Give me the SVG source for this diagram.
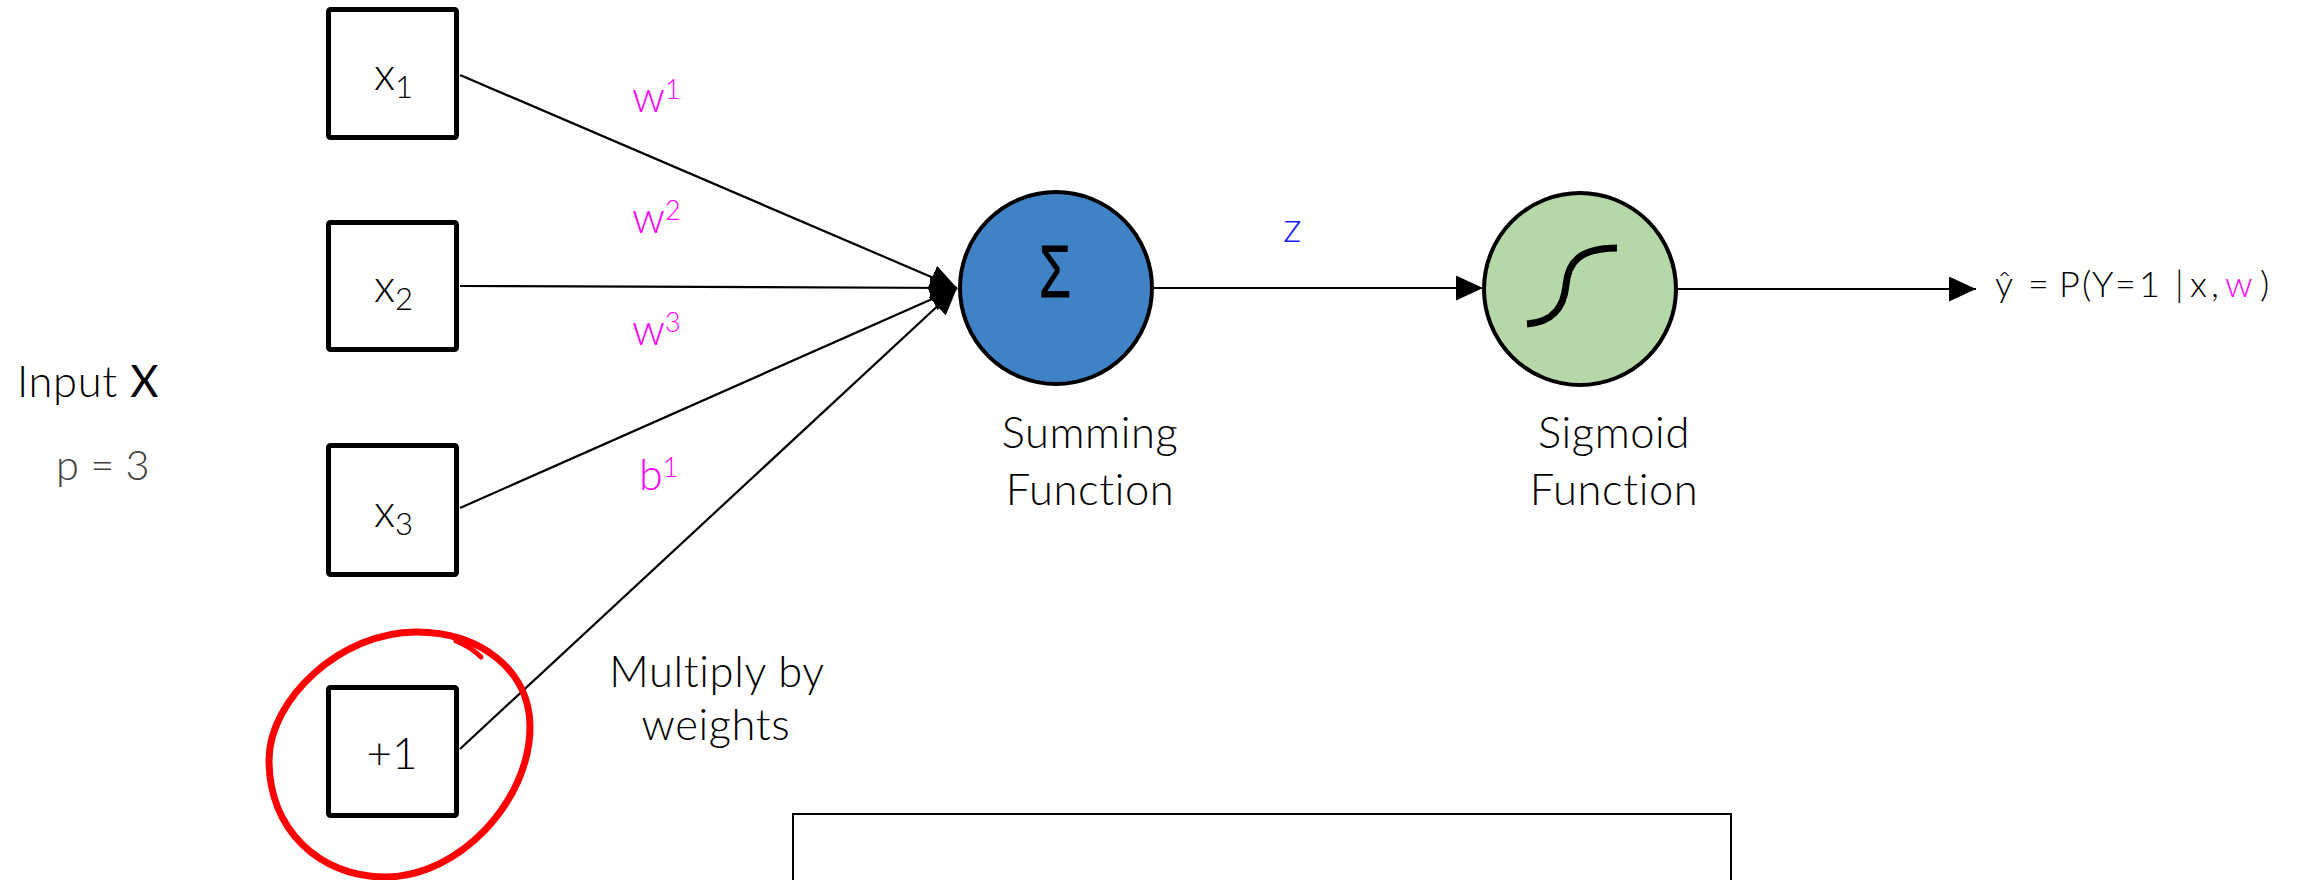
<svg xmlns="http://www.w3.org/2000/svg" width="2300" height="880" viewBox="0 0 2300 880">
<style>
.t{font-family:Lato,"Liberation Sans",sans-serif;font-weight:300;fill:#000}
.lbl{font-size:43.5px;letter-spacing:0.6px}
.box{fill:#fff;stroke:#000;stroke-width:5}
.conn{fill:none;stroke:#000;stroke-width:2.2;marker-end:url(#arr)}
.mag{fill:#ff00ff}
.circ{stroke:#000;stroke-width:4}
</style>
<defs>
<marker id="arr" markerUnits="userSpaceOnUse" markerWidth="30" markerHeight="28" refX="27" refY="12.5" orient="auto">
<path d="M0,0 L27,12.5 L0,25 Z" fill="#000"/>
</marker>
</defs>
<rect width="2300" height="880" fill="#fff"/>

<g id="connectors">
<line class="conn" x1="460" y1="75" x2="957" y2="288"/>
<line class="conn" x1="460" y1="286" x2="957" y2="288"/>
<line class="conn" x1="460" y1="508" x2="957" y2="288"/>
<line class="conn" x1="460" y1="749" x2="957" y2="288"/>
<line class="conn" x1="1152" y1="288" x2="1483" y2="288"/>
<line class="conn" x1="1677" y1="289" x2="1976" y2="289"/>
</g>

<g id="input-label">
<text class="t lbl" x="17" y="397">Input <tspan font-weight="400">X</tspan></text>
<text class="t" x="56" y="480" font-size="41.5" style="fill:#404040">p = 3</text>
</g>

<g id="node-x1">
<rect class="box" x="328.5" y="9.5" width="128" height="128" rx="2"/>
<text class="t" x="374" y="90" font-size="45">x<tspan font-size="31" dy="8">1</tspan></text>
</g>
<g id="node-x2">
<rect class="box" x="328.5" y="222.5" width="128" height="127" rx="2"/>
<text class="t" x="374" y="302" font-size="45">x<tspan font-size="31" dy="8">2</tspan></text>
</g>
<g id="node-x3">
<rect class="box" x="328.5" y="445.5" width="128" height="129" rx="2"/>
<text class="t" x="374" y="527" font-size="45">x<tspan font-size="31" dy="8">3</tspan></text>
</g>
<g id="node-bias">
<rect class="box" x="328.5" y="687.5" width="128" height="128" rx="2"/>
<text class="t" x="392" y="769" font-size="44" text-anchor="middle">+1</text>
<path d="M416,632 C480,632 530,670 530,727 C530,800 460,877 385,877 C320,877 269,830 269,760 C269,700 340,632 416,632 Z" fill="none" stroke="#ff0000" stroke-width="7"/>
<path d="M456,641 C466,645 474,650 481,657" fill="none" stroke="#ff0000" stroke-width="5" stroke-linecap="round"/>
</g>

<g id="weight-labels">
<text class="t mag" x="632" y="112" font-size="43">w<tspan font-size="27" dy="-13">1</tspan></text>
<text class="t mag" x="632" y="233" font-size="43">w<tspan font-size="27" dy="-13">2</tspan></text>
<text class="t mag" x="632" y="345" font-size="43">w<tspan font-size="27" dy="-13">3</tspan></text>
<text class="t mag" x="639" y="490" font-size="43">b<tspan font-size="27" dy="-13">1</tspan></text>
<text class="t lbl" x="717" y="687" text-anchor="middle">Multiply by</text>
<text class="t lbl" x="716" y="740" text-anchor="middle">weights</text>
</g>

<g id="node-sum">
<circle class="circ" cx="1056" cy="288" r="96" fill="#3f83c6"/>
<text x="1055" y="297" font-family="'Liberation Sans',sans-serif" font-size="75" textLength="32" lengthAdjust="spacingAndGlyphs" text-anchor="middle" fill="#000" stroke="#000" stroke-width="0.8">Σ</text>
<text class="t lbl" x="1090" y="448" text-anchor="middle">Summing</text>
<text class="t lbl" x="1090" y="505" text-anchor="middle">Function</text>
</g>

<text class="t" x="1283" y="242" font-size="42" style="fill:#1a1aff">z</text>

<g id="node-sigmoid">
<circle class="circ" cx="1580" cy="289" r="96" fill="#b6d7a8"/>
<path d="M1527,324 C1555,322 1564,305 1566,285 C1568,262 1580,248 1617,248" fill="none" stroke="#000" stroke-width="7"/>
<text class="t lbl" x="1614" y="448" text-anchor="middle">Sigmoid</text>
<text class="t lbl" x="1614" y="505" text-anchor="middle">Function</text>
</g>

<g id="output">
<text class="t" y="297" font-size="36" x="1995 2017 2028 2050 2059 2082 2092 2115 2139 2175 2190 2211">ŷ = P(Y=1|x,<tspan class="mag" x="2225">w</tspan><tspan x="2260">)</tspan></text>
</g>

<rect id="bottom-box" x="793" y="814" width="938" height="120" fill="none" stroke="#000" stroke-width="2"/>
</svg>
